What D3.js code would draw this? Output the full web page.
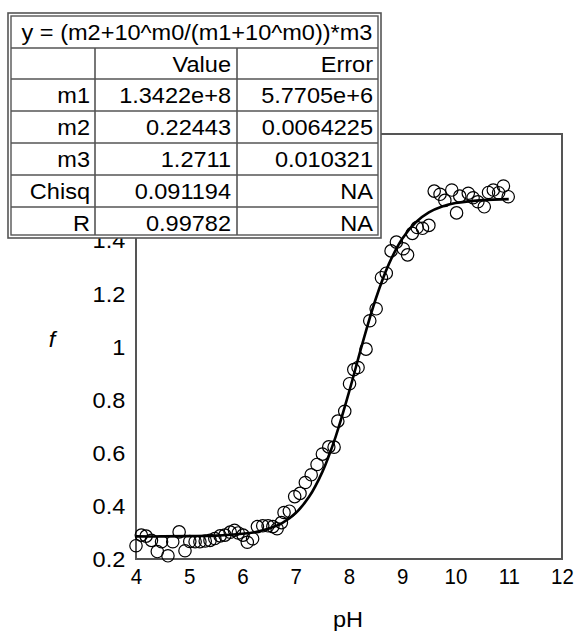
<!DOCTYPE html>
<html>
<head>
<meta charset="utf-8">
<script src="https://cdn.jsdelivr.net/npm/d3@7"></script>
<style>
  body { margin: 0; background: #fff; }
  svg { display: block; font-family: "Liberation Sans", Arial, sans-serif; }
</style>
</head>
<body>
<div id="chart"></div>
<script>
// measured pH / f points
var phVals = [4.00, 4.10, 4.19, 4.29, 4.40, 4.48, 4.60, 4.69, 4.81, 4.92,
  5.01, 5.11, 5.20, 5.30, 5.39, 5.48, 5.58, 5.67, 5.77, 5.85, 5.92,
  6.01, 6.09, 6.19, 6.28, 6.38, 6.48, 6.57, 6.65, 6.73, 6.78, 6.88, 6.98,
  7.08, 7.18, 7.29, 7.40, 7.50, 7.62, 7.72, 7.79, 7.92,
  8.01, 8.09, 8.17, 8.32, 8.39, 8.51, 8.61, 8.70, 8.79, 8.89,
  9.02, 9.10, 9.19, 9.28, 9.38, 9.50, 9.60, 9.71, 9.80, 9.93,
  10.02, 10.08, 10.24, 10.33, 10.42, 10.54, 10.62, 10.71, 10.81, 10.90, 10.99];
var fVals = [0.250, 0.290, 0.286, 0.270, 0.228, 0.265, 0.212, 0.265, 0.302, 0.231,
  0.266, 0.265, 0.265, 0.268, 0.270, 0.277, 0.287, 0.290, 0.301, 0.308, 0.298,
  0.290, 0.263, 0.276, 0.322, 0.325, 0.325, 0.322, 0.314, 0.337, 0.375, 0.380, 0.435,
  0.447, 0.488, 0.517, 0.556, 0.595, 0.622, 0.621, 0.719, 0.756,
  0.860, 0.913, 0.921, 0.990, 1.097, 1.142, 1.259, 1.276, 1.360, 1.393,
  1.368, 1.345, 1.426, 1.448, 1.445, 1.456, 1.585, 1.573, 1.550, 1.589,
  1.503, 1.566, 1.577, 1.560, 1.545, 1.526, 1.580, 1.589, 1.579, 1.604, 1.564];

// fitted curve
var fitPh = [4, 4.5, 5, 5.5, 6, 6.25, 6.5, 6.75, 7, 7.25, 7.5, 7.75, 8, 8.25,
  8.5, 8.75, 9, 9.25, 9.5, 9.75, 10, 10.5, 11];
var fitF = [0.285, 0.285, 0.286, 0.288, 0.295, 0.302, 0.315, 0.336, 0.373, 0.434,
  0.528, 0.661, 0.828, 1.010, 1.178, 1.311, 1.406, 1.467, 1.505, 1.527, 1.540,
  1.551, 1.555];

var xTicks = [4, 5, 6, 7, 8, 9, 10, 11, 12];
var yTicks = [0.2, 0.4, 0.6, 0.8, 1.0, 1.2, 1.4, 1.6, 1.8];

var tableTitle = "y = (m2+10^m0/(m1+10^m0))*m3";
var tableHead = ["", "Value", "Error"];
var tableNames = ["m1", "m2", "m3", "Chisq", "R"];
var tableValues = ["1.3422e+8", "0.22443", "1.2711", "0.091194", "0.99782"];
var tableErrors = ["5.7705e+6", "0.0064225", "0.010321", "NA", "NA"];

var width = 574, height = 631;
var fs = 22, sx = 1.07;   // text in the source looks a little stretched

var svg = d3.select("#chart").append("svg")
  .attr("width", width)
  .attr("height", height);

var x = d3.scaleLinear().domain([4, 12]).range([136, 562]);
var y = d3.scaleLinear().domain([0.2, 1.8]).range([559, 134]);

// frame
svg.append("rect")
  .attr("x", 136).attr("y", 134)
  .attr("width", 426).attr("height", 425)
  .attr("fill", "none")
  .attr("stroke", "#555")
  .attr("stroke-width", 2);

var pts = phVals.map(function(d, i) { return {ph: d, f: fVals[i]}; });

svg.append("g").selectAll("circle")
  .data(pts)
  .enter()
  .append("circle")
  .attr("cx", function(d) { return x(d.ph); })
  .attr("cy", function(d) { return y(d.f); })
  .attr("r", 6.2)
  .attr("fill", "none")
  .attr("stroke", "#000")
  .attr("stroke-width", 1.2);

var line = d3.line()
  .x(function(d, i) { return x(fitPh[i]); })
  .y(function(d) { return y(d); })
  .curve(d3.curveCatmullRom);

svg.append("path")
  .datum(fitF)
  .attr("d", line)
  .attr("fill", "none")
  .attr("stroke", "#000")
  .attr("stroke-width", 2.6);

// axes (labels only, no tick marks)
var xAxis = svg.append("g")
  .attr("transform", "translate(0,559)")
  .call(d3.axisBottom(x).tickValues(xTicks).tickSize(0).tickPadding(10)
    .tickFormat(d3.format("d")));
var yAxis = svg.append("g")
  .attr("transform", "translate(136,0)")
  .call(d3.axisLeft(y).tickValues(yTicks).tickSize(0)
    .tickFormat(function(d) { return String(+d.toFixed(1)); }));

[xAxis, yAxis].forEach(function(ax) {
  ax.select(".domain").remove();
  ax.selectAll("text")
    .attr("font-size", fs)
    .attr("font-family", "Liberation Sans, Arial, sans-serif")
    .attr("fill", "#000");
});
xAxis.selectAll("text").attr("transform", "scale(0.93,1)").attr("dy", "0.68em");
yAxis.selectAll("text")
  .attr("transform", "scale(" + sx + ",1)")
  .attr("x", -10)
  .attr("dy", "0.35em");

svg.append("text")
  .attr("transform", "translate(52,347) scale(" + sx + ",1)")
  .attr("text-anchor", "middle")
  .attr("font-size", fs)
  .attr("font-style", "italic")
  .text("f");

svg.append("text")
  .attr("transform", "translate(348,627) scale(" + sx + ",1)")
  .attr("text-anchor", "middle")
  .attr("font-size", fs)
  .text("pH");

// parameter table
var tbl = svg.append("g");
var rowY = [16, 48, 79, 111, 143, 175, 207, 235];
var colX = [11, 95, 237, 378];

tbl.append("rect")
  .attr("x", 8).attr("y", 13)
  .attr("width", 373).attr("height", 225)
  .attr("fill", "#fff")
  .attr("stroke", "#555")
  .attr("stroke-width", 1.6);
tbl.append("rect")
  .attr("x", 11).attr("y", 16)
  .attr("width", 367).attr("height", 219)
  .attr("fill", "none")
  .attr("stroke", "#555")
  .attr("stroke-width", 1.4);

tbl.selectAll("line.row")
  .data(rowY.slice(1, 7))
  .enter().append("line")
  .attr("class", "row")
  .attr("x1", 11).attr("x2", 378)
  .attr("y1", function(d) { return d; })
  .attr("y2", function(d) { return d; })
  .attr("stroke", "#555")
  .attr("stroke-width", 1.6);

tbl.selectAll("line.col")
  .data(colX.slice(1, 3))
  .enter().append("line")
  .attr("class", "col")
  .attr("x1", function(d) { return d; })
  .attr("x2", function(d) { return d; })
  .attr("y1", 48).attr("y2", 235)
  .attr("stroke", "#555")
  .attr("stroke-width", 1.6);

tbl.append("text")
  .attr("transform", "translate(197,40) scale(" + sx + ",1)")
  .attr("text-anchor", "middle")
  .attr("font-size", fs)
  .text(tableTitle);

var cells = [tableHead];
tableNames.forEach(function(n, i) {
  cells.push([n, tableValues[i], tableErrors[i]]);
});
var rightX = [90, 231, 373];

cells.forEach(function(row, r) {
  var by = rowY[r + 1] + 24;
  row.forEach(function(txt, c) {
    if (!txt) return;
    tbl.append("text")
      .attr("transform", "translate(" + rightX[c] + "," + by + ") scale(" + sx + ",1)")
      .attr("text-anchor", "end")
      .attr("font-size", fs)
      .text(txt);
  });
});
</script>
</body>
</html>
